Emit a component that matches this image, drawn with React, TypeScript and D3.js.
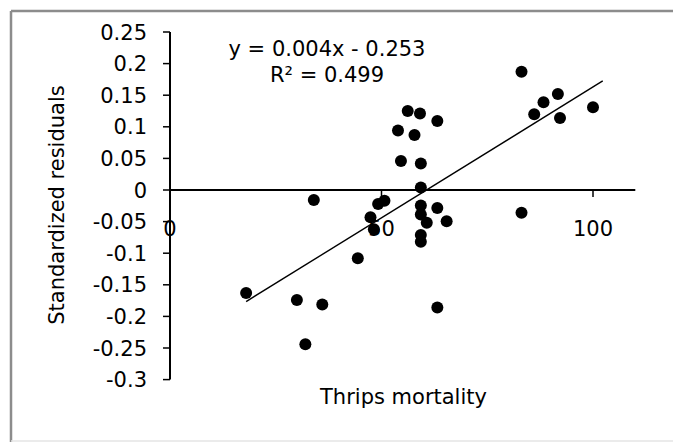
import React from "react";
import * as d3 from "d3";

const mortality = [18, 30, 36, 32, 34, 44.4, 47.4, 48.2, 49.2, 50.7, 53.9, 54.6, 56.2, 59.1, 57.8, 59.3, 59.3, 59.3, 59.3, 59.3, 59.3, 60.7, 63.2, 63.2, 63.2, 65.4, 83.1, 83.1, 86.1, 88.3, 91.7, 92.2, 100];
const residuals = [-0.163, -0.174, -0.181, -0.244, -0.016, -0.108, -0.043, -0.062, -0.022, -0.017, 0.094, 0.046, 0.125, 0.121, 0.087, 0.042, 0.004, -0.0245, -0.0388, -0.0712, -0.0818, -0.0517, 0.109, -0.0285, -0.186, -0.0495, 0.187, -0.0359, 0.12, 0.139, 0.152, 0.114, 0.131];
const yTicks = [0.25, 0.2, 0.15, 0.1, 0.05, 0, -0.05, -0.1, -0.15, -0.2, -0.25, -0.3];
const xTicks = [0, 50, 100];
const trendSlope = 0.00414;
const trendIntercept = -0.251;
const trendRange = [18, 102.3];
const equationLines = ["y = 0.004x - 0.253", "R² = 0.499"];
const xTitle = "Thrips mortality";
const yTitle = "Standardized residuals";

export default function App() {
  const W = 673, H = 442;
  const x = d3.scaleLinear().domain([0, 110]).range([170, 635.3]);
  const y = d3.scaleLinear().domain([-0.3, 0.25]).range([379.6, 32]);
  const font = "'DejaVu Sans', sans-serif";
  const fs = 21;
  const line = d3.line<number>().x((d) => x(d)).y((d) => y(trendSlope * d + trendIntercept));
  const fmt = (v: number) => (v === 0 ? "0" : String(v));
  return (
    <svg width={W} height={H} style={{ position: "absolute", left: 0, top: 0, background: "#fff" }} fontFamily={font}>
      <rect x={0} y={0} width={W} height={H} fill="#fff" />
      {/* frame */}
      <line x1={11} y1={11} x2={W} y2={11} stroke="#8c8c8c" strokeWidth={2.5} />
      <line x1={11} y1={11} x2={11} y2={H} stroke="#8c8c8c" strokeWidth={2.5} />
      <line x1={11} y1={441} x2={W} y2={441} stroke="#e4e4e4" strokeWidth={1.5} />
      {/* y axis */}
      <line x1={x(0)} y1={y(0.25)} x2={x(0)} y2={y(-0.3)} stroke="#000" strokeWidth={2} />
      {yTicks.map((t) => (
        <g key={"yt" + t}>
          <line x1={x(0) - 7} x2={x(0)} y1={y(t)} y2={y(t)} stroke="#000" strokeWidth={1.5} />
          <text x={147} y={y(t)} dy="0.36em" textAnchor="end" fontSize={fs} fill="#000">
            {fmt(t)}
          </text>
        </g>
      ))}
      {/* x axis */}
      <line x1={x(0)} y1={y(0)} x2={x(110)} y2={y(0)} stroke="#000" strokeWidth={2} />
      {xTicks.map((t) => (
        <g key={"xt" + t}>
          <line x1={x(t)} x2={x(t)} y1={y(0)} y2={y(0) + 7} stroke="#000" strokeWidth={1.5} />
          <text x={x(t)} y={236} textAnchor="middle" fontSize={fs} fill="#000">
            {t}
          </text>
        </g>
      ))}
      {/* trendline */}
      <path d={line(trendRange) || ""} fill="none" stroke="#000" strokeWidth={1.4} />
      {/* points */}
      {mortality.map((m, i) => (
        <circle key={i} cx={x(m)} cy={y(residuals[i])} r={6} fill="#000" />
      ))}
      {/* equation */}
      <text x={327} y={56} textAnchor="middle" fontSize={fs} fill="#000">{equationLines[0]}</text>
      <text x={327} y={82} textAnchor="middle" fontSize={fs} fill="#000">{equationLines[1]}</text>
      {/* titles */}
      <text x={403.5} y={404} textAnchor="middle" fontSize={fs} fill="#000">{xTitle}</text>
      <text transform="translate(64,205) rotate(-90)" textAnchor="middle" fontSize={fs} fill="#000">{yTitle}</text>
    </svg>
  );
}
